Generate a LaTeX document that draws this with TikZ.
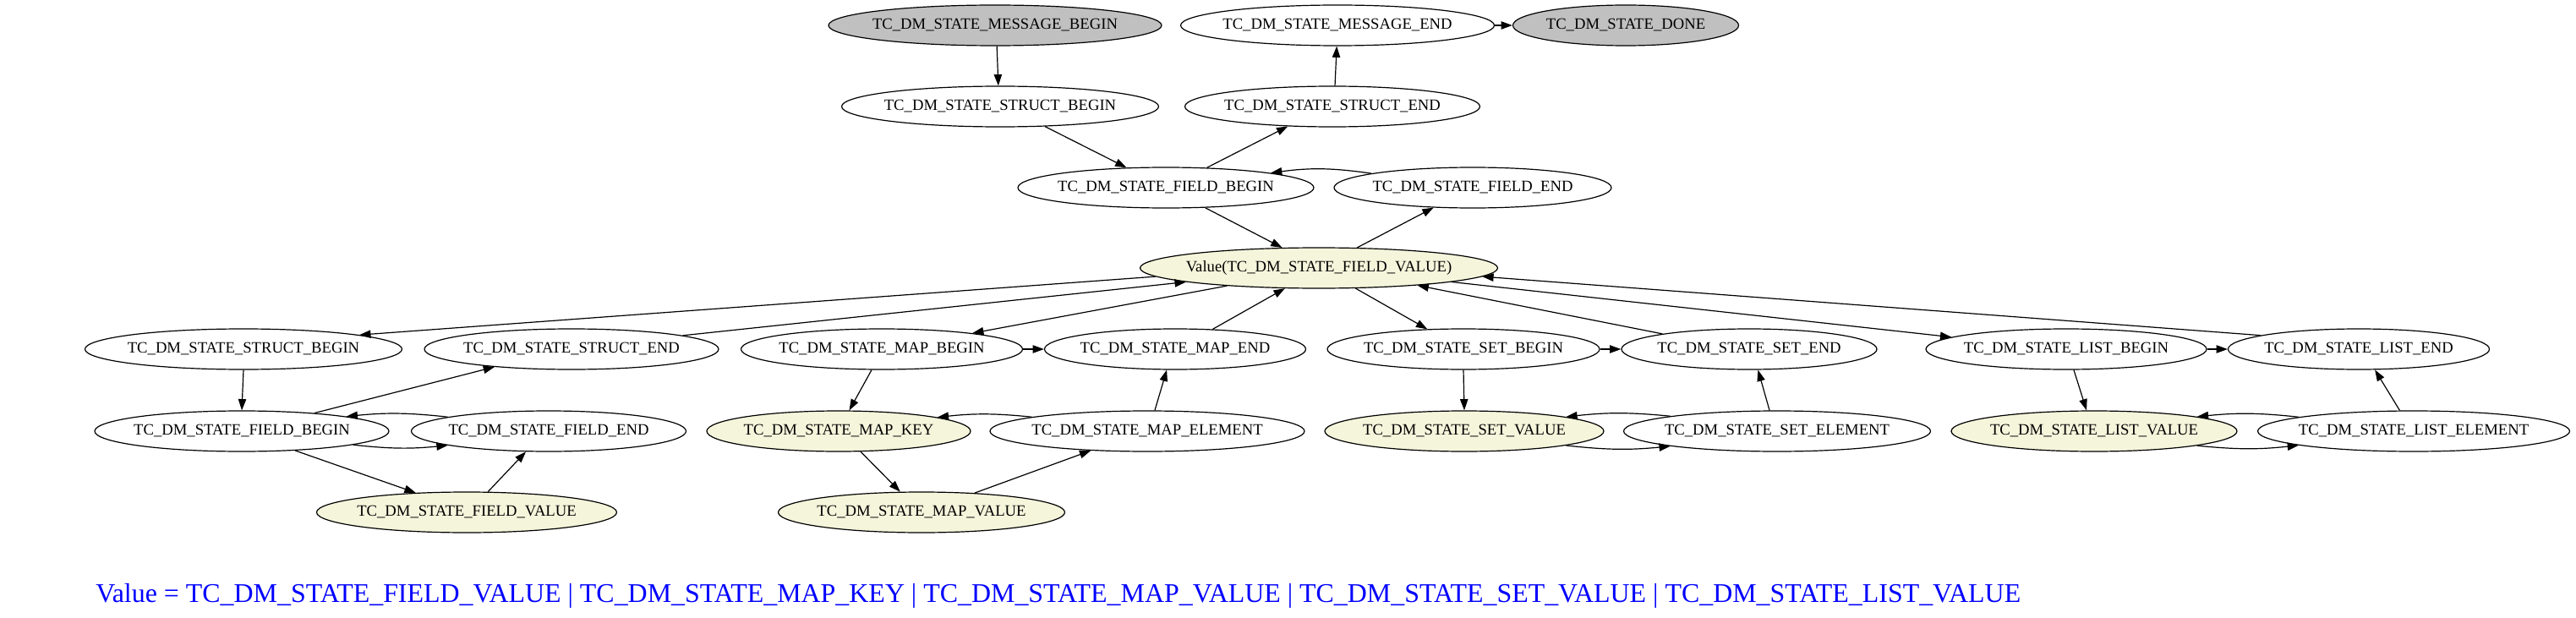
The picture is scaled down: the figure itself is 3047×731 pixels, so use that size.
\documentclass[tikz,border=0pt]{standalone}
\usepackage{fontspec}
\setmainfont{Liberation Serif}
\usetikzlibrary{arrows.meta,shapes.geometric}
\definecolor{gvgray}{HTML}{C0C0C0}
\definecolor{gvbeige}{HTML}{F5F5DC}
\newcommand{\lbl}[1]{\makebox[0pt]{#1}}
\begin{document}
\begin{tikzpicture}[x=0.75pt,y=-0.75pt,
  st/.style={draw, ellipse, line width=0.9pt, minimum height=36pt, inner sep=0pt, font=\fontsize{14pt}{16pt}\selectfont},
  grey/.style={st, fill=gvgray},
  bg/.style={st, fill=gvbeige},
  e/.style={-{Triangle[length=10pt,width=7pt]}, line width=0.9pt},
]
\useasboundingbox (0,0) rectangle (3047,731);
% top part
\node[grey, minimum width=295.5pt] (mb) at (1177,30) {\lbl{TC\_DM\_STATE\_MESSAGE\_BEGIN}};
\node[st, minimum width=278.25pt] (me) at (1582,30) {\lbl{TC\_DM\_STATE\_MESSAGE\_END}};
\node[grey, minimum width=200.25pt] (done) at (1923,30) {\lbl{TC\_DM\_STATE\_DONE}};
\node[st, minimum width=281.25pt] (sb1) at (1183,126) {\lbl{TC\_DM\_STATE\_STRUCT\_BEGIN}};
\node[st, minimum width=261.75pt] (se1) at (1576,126) {\lbl{TC\_DM\_STATE\_STRUCT\_END}};
\node[st, minimum width=262.5pt] (fb1) at (1379,222) {\lbl{TC\_DM\_STATE\_FIELD\_BEGIN}};
\node[st, minimum width=246pt] (fe1) at (1742,222) {\lbl{TC\_DM\_STATE\_FIELD\_END}};
\node[bg, minimum width=317.25pt] (val) at (1560,317) {\lbl{Value(TC\_DM\_STATE\_FIELD\_VALUE)}};
% row 1
\node[st, minimum width=281.25pt] (sb2) at (288,413) {\lbl{TC\_DM\_STATE\_STRUCT\_BEGIN}};
\node[st, minimum width=261pt] (se2) at (676,413) {\lbl{TC\_DM\_STATE\_STRUCT\_END}};
\node[st, minimum width=249.75pt] (mapb) at (1043,413) {\lbl{TC\_DM\_STATE\_MAP\_BEGIN}};
\node[st, minimum width=231.75pt] (mape) at (1390,413) {\lbl{TC\_DM\_STATE\_MAP\_END}};
\node[st, minimum width=241.5pt] (setb) at (1731,413) {\lbl{TC\_DM\_STATE\_SET\_BEGIN}};
\node[st, minimum width=226.5pt] (sete) at (2069,413) {\lbl{TC\_DM\_STATE\_SET\_END}};
\node[st, minimum width=249pt] (listb) at (2444,413) {\lbl{TC\_DM\_STATE\_LIST\_BEGIN}};
\node[st, minimum width=231.75pt] (liste) at (2790,413) {\lbl{TC\_DM\_STATE\_LIST\_END}};
% row 2
\node[st, minimum width=261pt] (fb2) at (286,510) {\lbl{TC\_DM\_STATE\_FIELD\_BEGIN}};
\node[st, minimum width=243.75pt] (fe2) at (649,510) {\lbl{TC\_DM\_STATE\_FIELD\_END}};
\node[bg, minimum width=234pt] (mapk) at (992,510) {\lbl{TC\_DM\_STATE\_MAP\_KEY}};
\node[st, minimum width=279pt] (mapel) at (1357,510) {\lbl{TC\_DM\_STATE\_MAP\_ELEMENT}};
\node[bg, minimum width=247.5pt] (setv) at (1732,510) {\lbl{TC\_DM\_STATE\_SET\_VALUE}};
\node[st, minimum width=272.25pt] (setel) at (2102,510) {\lbl{TC\_DM\_STATE\_SET\_ELEMENT}};
\node[bg, minimum width=253.5pt] (listv) at (2477,510) {\lbl{TC\_DM\_STATE\_LIST\_VALUE}};
\node[st, minimum width=276.75pt] (listel) at (2855,510) {\lbl{TC\_DM\_STATE\_LIST\_ELEMENT}};
% row 3
\node[bg, minimum width=266.25pt] (fv2) at (552,606) {\lbl{TC\_DM\_STATE\_FIELD\_VALUE}};
\node[bg, minimum width=254.25pt] (mapv) at (1090,606) {\lbl{TC\_DM\_STATE\_MAP\_VALUE}};
% legend
\node[anchor=base west, inner sep=0pt, text=blue] (legend) at (113,712) {\resizebox{1707.75pt}{!}{\fontsize{24pt}{28pt}\selectfont Value = TC\_DM\_STATE\_FIELD\_VALUE | TC\_DM\_STATE\_MAP\_KEY | TC\_DM\_STATE\_MAP\_VALUE | TC\_DM\_STATE\_SET\_VALUE | TC\_DM\_STATE\_LIST\_VALUE}};
% edges top
\draw[e] (mb.-85) -- (sb1.95);
\draw[e] (se1.83) -- (me.-92);
\draw[e] (me.east) -- (done.west);
\draw[e] (sb1.-24) -- (fb1.153);
\draw[e] (fb1.26) -- (se1.204);
\draw[e] (fe1.172) to[bend right=8] (fb1.8);
\draw[e] (fb1.-27) -- (val.151);
\draw[e] (val.28) -- (fe1.207);
% value fan
\draw[e] (val.183) -- (sb2.7);
\draw[e] (se2.7) -- (val.186);
\draw[e] (val.191) -- (mapb.10);
\draw[e] (mape.28) -- (val.211);
\draw[e] (val.-29) -- (setb.151);
\draw[e] (sete.170) -- (val.-10);
\draw[e] (val.-6) -- (listb.174);
\draw[e] (liste.172) -- (val.-3);
\draw[e] (mapb.east) -- (mape.west);
\draw[e] (setb.east) -- (sete.west);
\draw[e] (listb.east) -- (liste.west);
% struct group
\draw[e] (sb2.south) -- (fb2.north);
\draw[e] (fb2.14) -- (se2.193);
\draw[e] (fe2.172) to[bend right=6] (fb2.8);
\draw[e] (fb2.-7) to[bend right=6] (fe2.188);
\draw[e] (fb2.-20) -- (fv2.159);
\draw[e] (fv2.44) -- (fe2.222);
% map group
\draw[e] (mapb.244) -- (mapk.63);
\draw[e] (mapel.70) -- (mape.248);
\draw[e] (mapel.173) to[bend right=6] (mapk.8);
\draw[e] (mapk.-43) -- (mapv.136);
\draw[e] (mapv.20) -- (mapel.199);
% set group
\draw[e] (setb.south) -- (setv.north);
\draw[e] (setel.110) -- (sete.-67);
\draw[e] (setel.172) to[bend right=6] (setv.8);
\draw[e] (setv.-8) to[bend right=6] (setel.188);
% list group
\draw[e] (listb.-70) -- (listv.110);
\draw[e] (listel.124) -- (liste.-52);
\draw[e] (listel.173) to[bend right=6] (listv.8);
\draw[e] (listv.-8) to[bend right=6] (listel.187);
\end{tikzpicture}
\end{document}
